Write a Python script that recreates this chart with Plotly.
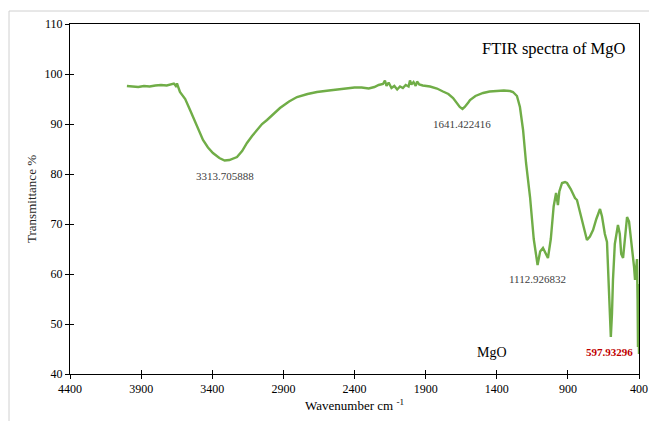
import plotly.graph_objects as go

# Wavenumber (cm-1) and transmittance (%)
wavenumber = [
    4000, 3960, 3920, 3880, 3840, 3800, 3760, 3720, 3690, 3670, 3656, 3648,
    3627, 3590, 3556, 3507, 3465, 3430, 3395, 3350, 3313, 3280, 3226, 3190,
    3156, 3120, 3085, 3050, 3015, 2970, 2924, 2860, 2804, 2730, 2664, 2580,
    2502, 2450, 2400, 2350, 2300, 2260, 2230, 2200, 2186, 2175, 2160, 2140,
    2120, 2100, 2080, 2060, 2040, 2020, 2010, 2000, 1985, 1970, 1960, 1945,
    1920, 1869, 1820, 1778, 1740, 1707, 1680, 1660, 1641, 1625, 1600, 1588,
    1550, 1496, 1450, 1398, 1350, 1307, 1286, 1258, 1237, 1215, 1194, 1166,
    1140, 1113, 1095, 1075, 1055, 1040, 1020, 1000, 983, 975, 970, 960, 941,
    920, 906, 880, 850, 836, 800, 766, 745, 723, 700, 674, 660, 653, 640,
    625, 612, 598, 590, 583, 570, 548, 535, 525, 512, 500, 484, 470, 456,
    442, 435, 428, 420, 414, 410, 407, 403, 400,
]
transmittance = [
    97.6, 97.5, 97.4, 97.6, 97.5, 97.7, 97.8, 97.7, 97.9, 98.1, 97.6, 98.1,
    96.4, 95.0, 92.8, 89.4, 86.8, 85.3, 84.2, 83.2, 82.7, 82.8, 83.4, 84.6,
    86.2, 87.6, 88.8, 90.0, 90.8, 92.0, 93.2, 94.5, 95.4, 96.0, 96.4, 96.7,
    97.0, 97.1, 97.3, 97.3, 97.1, 97.4, 97.8, 98.0, 98.7, 97.6, 98.3, 97.2,
    97.6, 96.9, 97.5, 97.2, 97.8, 97.5, 98.7, 97.9, 98.4, 97.6, 98.5, 97.9,
    97.7, 97.5, 97.1, 96.5, 96.0, 95.2, 94.2, 93.4, 93.0, 93.4, 94.3, 94.8,
    95.6, 96.2, 96.5, 96.6, 96.7, 96.6, 96.4, 95.6, 93.4, 88.8, 82.2, 75.4,
    67.0, 61.8, 64.5, 65.2, 64.2, 63.2, 67.0, 73.5, 76.2, 74.5, 73.8, 76.5,
    78.2, 78.4, 78.2, 77.0, 75.2, 74.8, 70.5, 66.8, 67.5, 68.8, 71.0, 73.0,
    71.5, 70.2, 68.0, 66.4, 58.0, 47.4, 52.0, 58.8, 66.0, 69.8, 68.0, 64.0,
    63.2, 67.0, 71.4, 70.5, 67.2, 62.8, 61.5, 58.8, 62.0, 63.0, 55.0, 45.4,
    58.0, 44.0,
]

x_ticks = [4400, 3900, 3400, 2900, 2400, 1900, 1400, 900, 400]
y_ticks = [40, 50, 60, 70, 80, 90, 100, 110]

peak_labels = ["3313.705888", "1641.422416", "1112.926832"]
peak_x = [3313, 1641, 1113]
peak_label_y = [79.6, 90.0, 59.0]

serif = "Liberation Serif, Times New Roman, serif"
green = "#70AD47"

fig = go.Figure()
fig.add_trace(go.Scatter(
    x=wavenumber, y=transmittance, mode="lines",
    line=dict(color=green, width=2.4), showlegend=False, hoverinfo="skip",
))
# Same data on overlay axes only to draw the inner half of the crossing ticks
fig.add_trace(go.Scatter(
    x=wavenumber, y=transmittance, mode="lines", xaxis="x2", yaxis="y2",
    line=dict(width=0, color="rgba(0,0,0,0)"),
    showlegend=False, hoverinfo="skip",
))

axis_common = dict(
    showgrid=False, zeroline=False, showline=True, linecolor="#000000",
    linewidth=1, automargin=False,
    tickfont=dict(family=serif, size=12, color="#000000"),
)

fig.update_layout(
    width=649, height=421,
    margin=dict(l=70, r=10, t=24, b=47),
    paper_bgcolor="white", plot_bgcolor="white",
    xaxis=dict(
        range=[4400, 400], tickvals=x_ticks, ticktext=[str(v) for v in x_ticks],
        ticks="outside", ticklen=4, tickcolor="#000000", mirror=True,
        title=dict(text="Wavenumber cm <sup>-1</sup>",
                   font=dict(family=serif, size=13, color="#000000"), standoff=5),
        **axis_common,
    ),
    yaxis=dict(
        range=[40, 110], tickvals=y_ticks, ticktext=[str(v) for v in y_ticks],
        ticks="outside", ticklen=4, tickcolor="#000000", mirror=True,
        title=dict(text="Transmittance %",
                   font=dict(family=serif, size=13, color="#262626"), standoff=5),
        **axis_common,
    ),
    xaxis2=dict(
        range=[4400, 400], tickvals=x_ticks, overlaying="x", anchor="y2",
        side="bottom", ticks="inside", ticklen=4, tickcolor="#000000",
        showticklabels=False, showgrid=False, zeroline=False, showline=False,
        automargin=False,
    ),
    yaxis2=dict(
        range=[40, 110], tickvals=y_ticks, overlaying="y", anchor="x2",
        side="left", ticks="inside", ticklen=4, tickcolor="#000000",
        showticklabels=False, showgrid=False, zeroline=False, showline=False,
        automargin=False,
    ),
    font=dict(family=serif),
)

for lab, px_, py_ in zip(peak_labels, peak_x, peak_label_y):
    fig.add_annotation(x=px_, y=py_, text=lab, showarrow=False,
                       font=dict(family=serif, size=11, color="#404040"),
                       xanchor="center", yanchor="middle")

fig.add_annotation(x=997, y=105.2, text="FTIR spectra of MgO", showarrow=False,
                   font=dict(family=serif, size=16.5, color="#000000"),
                   xanchor="center", yanchor="middle")
fig.add_annotation(x=1433, y=44.4, text="MgO", showarrow=False,
                   font=dict(family=serif, size=14, color="#000000"),
                   xanchor="center", yanchor="middle")
fig.add_annotation(x=604, y=44.4, text="<b>597.93296</b>", showarrow=False,
                   font=dict(family=serif, size=11, color="#C00000"),
                   xanchor="center", yanchor="middle")

# Outer chart-area frame (light grey), partly cut off by the image edge
fig.add_shape(type="rect", xref="paper", yref="paper",
              x0=-0.1072, x1=1.04, y0=-0.2, y1=1.0371,
              line=dict(color="#D0D0D0", width=1), layer="below")

fig.write_html("out.html")
